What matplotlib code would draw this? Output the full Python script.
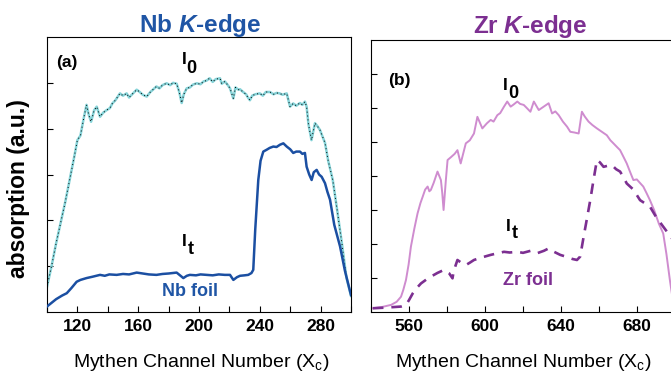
import matplotlib
matplotlib.use("Agg")
import matplotlib.pyplot as plt
from matplotlib.ticker import MultipleLocator

plt.rcParams['font.family'] = ['Liberation Sans', 'DejaVu Sans']
plt.rcParams['mathtext.fontset'] = 'custom'
plt.rcParams['mathtext.rm'] = 'Liberation Sans'
plt.rcParams['mathtext.bf'] = 'Liberation Sans:bold'
plt.rcParams['mathtext.it'] = 'Liberation Sans:italic:bold'

# Nb K-edge: incident (I0) and transmitted (It) intensity vs. channel
nb_i0_x = [100, 103, 106, 109, 112, 115, 118, 120, 122, 124, 126, 127.5, 129, 131, 132.7,
           134.9, 137, 139, 141.4, 143, 145, 148, 150, 152.4, 154, 156, 159, 161, 163, 165.6,
           168, 170, 172, 174, 176, 178.7, 181, 183, 185.3, 187, 188.6, 190, 191.9, 194, 196,
           198.5, 201, 203, 205, 207, 209, 211, 213.8, 215, 217, 219, 220.4, 222.6, 224, 226,
           227, 229, 231, 232, 233.5, 235, 237, 240, 242, 244, 246.7, 249, 251, 253, 255,
           257.7, 259.9, 262, 264, 266.4, 268, 269.7, 270.8, 272, 274, 276.3, 278, 279.6, 281,
           282.9, 285, 288, 291, 294, 297, 300]
nb_i0_y = [0.55, 1.0, 1.5, 1.95, 2.4, 2.9, 3.4, 3.75, 3.85, 4.2, 4.52, 4.3, 4.15, 4.4, 4.48,
           4.26, 4.35, 4.4, 4.45, 4.55, 4.62, 4.77, 4.72, 4.77, 4.68, 4.75, 4.85, 4.8, 4.74, 4.70,
           4.8, 4.86, 4.92, 4.88, 4.95, 4.99, 4.95, 5.0, 4.98, 4.8, 4.56, 4.75, 4.88, 4.9, 4.96,
           4.99, 4.97, 5.03, 5.05, 5.1, 5.02, 5.08, 5.1, 4.98, 5.03, 4.95, 4.88, 4.66, 4.9, 4.85,
           4.86, 4.8, 4.75, 4.69, 4.62, 4.72, 4.75, 4.77, 4.72, 4.8, 4.8, 4.75, 4.78, 4.77, 4.74,
           4.77, 4.48, 4.55, 4.5, 4.56, 4.52, 4.59, 4.48, 4.1, 3.75, 4.12, 4.05, 3.97, 3.85,
           3.69, 3.3, 2.88, 2.2, 1.5, 0.75, 0.35]

nb_it_x = [100, 103, 106, 110, 113, 116, 119.5, 122, 126, 130, 134.9, 138, 141, 145.8, 150,
           154, 159, 163, 167, 172, 176, 180, 185.3, 187.5, 189.7, 192, 194, 198, 201, 205, 209,
           213, 217, 220.4, 222.6, 225, 227, 230, 232.4, 234.5, 235.7, 237, 239, 240.5, 242.3,
           244.5, 246.5, 248.9, 251, 253.3, 255.5, 257.7, 260, 262, 264, 266.4, 268, 269.7,
           270.8, 272.5, 274.1, 275.5, 277.4, 279, 280.7, 282.9, 284.5, 286.2, 289, 292.8, 296,
           300]
nb_it_y = [0.12, 0.2, 0.28, 0.36, 0.41, 0.52, 0.66, 0.7, 0.74, 0.77, 0.81, 0.79, 0.82, 0.81,
           0.83, 0.82, 0.86, 0.84, 0.82, 0.81, 0.83, 0.84, 0.86, 0.8, 0.74, 0.79, 0.81, 0.8, 0.82,
           0.81, 0.8, 0.82, 0.81, 0.81, 0.70, 0.76, 0.79, 0.8, 0.81, 0.85, 0.92, 1.8, 2.88, 3.3,
           3.5, 3.54, 3.58, 3.61, 3.6, 3.65, 3.68, 3.61, 3.55, 3.47, 3.5, 3.5, 3.45, 3.47, 3.17,
           3.0, 2.88, 3.05, 3.1, 3.0, 2.95, 2.81, 2.62, 2.45, 1.9, 1.43, 0.9, 0.37]

# Zr K-edge
zr_i0_x = [541, 546, 550.6, 553.5, 555.8, 557, 558.4, 559.8, 561, 562.8, 564.5, 566, 567.2,
           568.5, 569.8, 570.7, 571.5, 573, 575, 576.8, 577.5, 578.2, 579.4, 580.3, 582, 584,
           585.5, 587.2, 589.9, 592, 594.2, 596, 598.6, 601, 603, 604.5, 606.5, 608, 610, 611.7,
           613.5, 615, 617, 618.5, 620.4, 622, 623.9, 625.7, 628.3, 630.9, 633.5, 635.3, 637,
           638.8, 641, 643.2, 644.9, 647, 649.3, 651, 652.5, 654.5, 656.5, 658.9, 661.5, 664.1,
           666, 667.6, 669.5, 671.1, 673, 674.6, 676.5, 678.1, 679.9, 681.5, 683.3, 685, 686.8,
           689, 691.5, 693.8, 695.5, 697.3, 699]
zr_i0_y = [0.11, 0.15, 0.21, 0.3, 0.45, 0.65, 0.94, 1.4, 1.92, 2.45, 2.9, 3.2, 3.39, 3.6,
           3.69, 3.55, 3.59, 3.8, 4.13, 3.88, 3.5, 3.0, 3.88, 4.47, 4.55, 4.65, 4.76, 4.37, 4.96,
           5.05, 5.25, 5.74, 5.4, 5.55, 5.65, 5.6, 5.79, 5.85, 6.04, 6.19, 6.04, 6.1, 6.19, 6.12,
           6.09, 6.0, 5.89, 6.19, 5.94, 6.04, 6.14, 5.84, 5.9, 5.79, 5.6, 5.45, 5.30, 5.28, 5.25,
           5.89, 5.75, 5.6, 5.5, 5.4, 5.3, 5.2, 5.05, 4.96, 4.85, 4.76, 4.55, 4.37, 4.1, 3.88,
           3.9, 3.8, 3.69, 3.5, 3.29, 3.0, 2.6, 2.31, 1.7, 0.94, 0.3]

zr_it_x = [541, 548, 555.8, 558.5, 560, 562, 564, 566.3, 569, 571.5, 575, 578.5, 581.1, 582.9,
           583.5, 585.5, 587.5, 589.9, 592, 594.2, 598, 603, 606, 610, 613, 617, 620, 624,
           627.5, 631, 633.5, 636, 639.6, 643, 646, 648.4, 650.1, 651.9, 653.5, 655.4, 657.1,
           658.9, 660.5, 662.4, 664.5, 666.8, 669, 671.1, 673, 674.6, 678.1, 681.6, 686.8, 690,
           693.8, 697.8, 700]
zr_it_y = [0.11, 0.13, 0.16, 0.21, 0.35, 0.55, 0.7, 0.84, 0.95, 1.04, 1.15, 1.24, 1.14, 0.99,
           1.2, 1.53, 1.45, 1.38, 1.45, 1.53, 1.6, 1.68, 1.72, 1.77, 1.75, 1.77, 1.74, 1.8, 1.73,
           1.8, 1.87, 1.78, 1.68, 1.62, 1.56, 1.53, 1.63, 2.21, 2.7, 3.29, 3.88, 4.47, 4.4, 4.27,
           4.3, 4.32, 4.2, 4.13, 3.95, 3.78, 3.6, 3.29, 3.1, 2.8, 2.51, 2.21, 2.05]

nb_ticks = [120, 160, 200, 240, 280]
zr_ticks = [560, 600, 640, 680]

nb_blue = '#1f55a5'
nb_line = '#1b4fa2'
i0_cyan = '#86d3d8'
zr_purple = '#7c2f91'
zr_pink = '#cf8ccf'

W, H = 671, 376
fig = plt.figure(figsize=(W / 100, H / 100), dpi=100)


def px(x, y):
    """pixel position (from top-left) -> figure fraction"""
    return x / W, 1 - y / H


def intensity_label(x, y, sub, dx, dy):
    # "I" with a full-size subscript dropped below and to the right
    fig.text(*px(x, y), 'I', fontsize=12.5, fontweight='bold', ha='center', va='center')
    fig.text(*px(x + dx, y + dy), sub, fontsize=13, fontweight='bold',
             ha='center', va='center')


ax1 = fig.add_axes([47 / W, 1 - 312 / H, 304 / W, 275 / H])
ax2 = fig.add_axes([371 / W, 1 - 312 / H, 304 / W, 272 / H])

# panel (a)
ax1.plot(nb_i0_x, nb_i0_y, color=i0_cyan, lw=1.8, zorder=2)
ax1.plot(nb_i0_x, nb_i0_y, color='black', lw=0.7, ls=(0, (1, 3)), zorder=3)
ax1.plot(nb_it_x, nb_it_y, color=nb_line, lw=1.8, zorder=4)
ax1.set_xlim(100, 300)
ax1.set_ylim(0, 6)
ax1.set_xticks(nb_ticks)
ax1.xaxis.set_minor_locator(MultipleLocator(20))
ax1.set_yticks([1, 2, 3, 4, 5])

# panel (b)
ax2.plot(zr_i0_x, zr_i0_y, color=zr_pink, lw=1.4, zorder=2)
ax2.plot(zr_it_x, zr_it_y, color=zr_purple, lw=1.9, ls=(0, (4, 3)), zorder=3)
ax2.set_xlim(540, 700)
ax2.set_ylim(0, 8)
ax2.set_xticks(zr_ticks)
ax2.xaxis.set_minor_locator(MultipleLocator(20))
ax2.set_yticks([1, 2, 3, 4, 5, 6, 7])

for ax in (ax1, ax2):
    ax.tick_params(axis='both', which='both', direction='in', length=4, width=0.8,
                   top=False, right=False, pad=5)
    ax.tick_params(axis='y', labelleft=False)
    for lab in ax.get_xticklabels():
        lab.set_fontsize(12.5)
        lab.set_fontweight('bold')
    for sp in ax.spines.values():
        sp.set_linewidth(0.8)

# panel annotations
bold = dict(fontweight='bold', ha='center', va='center')
ax1.text(113, 5.45, '(a)', fontsize=12.5, **bold)
ax1.text(194, 0.44, 'Nb foil', fontsize=13, color=nb_blue, **bold)
ax2.text(555, 6.82, '(b)', fontsize=12.5, **bold)
ax2.text(622.5, 0.94, 'Zr foil', fontsize=13, color=zr_purple, **bold)

intensity_label(184, 60, '0', 7.5, 8.5)
intensity_label(184.5, 241.5, 't', 6.5, 8.5)
intensity_label(505.5, 86, '0', 7.5, 8)
intensity_label(508.5, 226.5, 't', 6, 7.5)

# titles and axis labels
fig.text(200 / W, 1 - 32 / H, r'Nb $K$-edge', fontsize=17.5, fontweight='bold',
         color=nb_blue, ha='center', va='baseline')
fig.text(530 / W, 1 - 33 / H, r'Zr $K$-edge', fontsize=17.5, fontweight='bold',
         color=zr_purple, ha='center', va='baseline')
fig.text(19 / W, 1 - 189 / H, 'absorption (a.u.)', fontsize=16.5, fontweight='bold',
         rotation=90, ha='center', va='center')
xlab = r'Mythen Channel Number (X$_\mathregular{c}$)'
fig.text(201 / W, 1 - 367 / H, xlab, fontsize=14, ha='center', va='baseline')
fig.text(523 / W, 1 - 367 / H, xlab, fontsize=14, ha='center', va='baseline')

fig.savefig('out.png', dpi=100)
